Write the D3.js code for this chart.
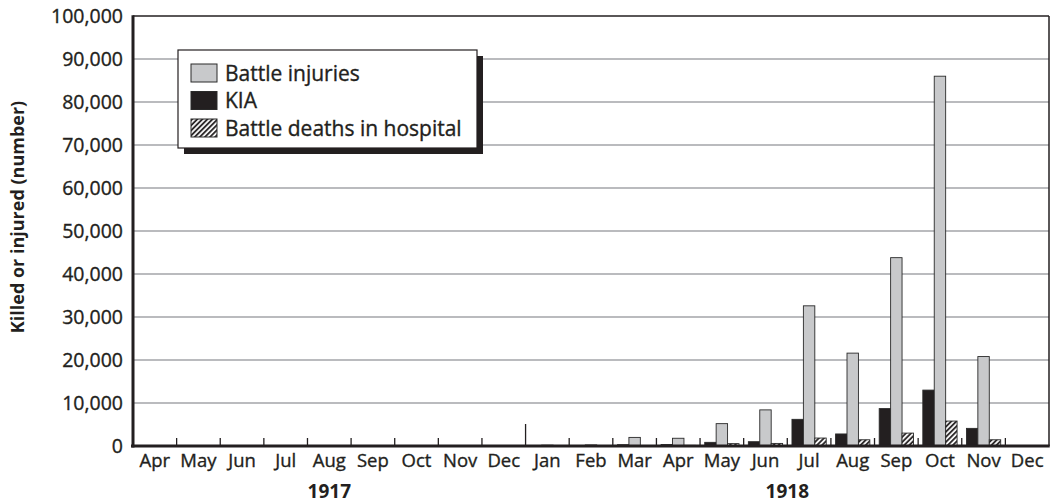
<!DOCTYPE html>
<html>
<head>
<meta charset="utf-8">
<script src="https://cdn.jsdelivr.net/npm/d3@7"></script>
<style>
  html, body { margin: 0; padding: 0; background: #fff; }
  svg { display: block; font-family: "Open Sans", "Noto Sans", sans-serif; }
  .reg { stroke: #231f20; stroke-width: 0.35px; }
</style>
</head>
<body>
<svg id="chart" width="1051" height="504"></svg>
<script>
// ---- data ----
const months = ["Apr","May","Jun","Jul","Aug","Sep","Oct","Nov","Dec","Jan","Feb","Mar","Apr","May","Jun","Jul","Aug","Sep","Oct","Nov","Dec"];
const monthYears = [1917,1917,1917,1917,1917,1917,1917,1917,1917,1918,1918,1918,1918,1918,1918,1918,1918,1918,1918,1918,1918];
const years = [1917, 1918];
const seriesNames = ["KIA", "Battle injuries", "Battle deaths in hospital"];
const kia      = [0,0,0,0,0,0,0,20,40,60,80,300,350,850,1000,6200,2800,8700,13000,4100,0];
const injuries = [0,0,0,0,0,0,0,50,100,200,250,2000,1800,5200,8400,32600,21600,43800,86000,20800,0];
const hospital = [0,0,0,0,0,0,0,10,20,30,40,100,150,550,600,1850,1450,3000,5800,1450,0];
const yTicks = [0,10000,20000,30000,40000,50000,60000,70000,80000,90000,100000];
const legendOrder = ["Battle injuries", "KIA", "Battle deaths in hospital"];

const seriesValues = { "KIA": kia, "Battle injuries": injuries, "Battle deaths in hospital": hospital };
const ink = "#231f20";
const fills = { "KIA": ink, "Battle injuries": "#c8c9cb", "Battle deaths in hospital": "url(#hatch)" };

const svg = d3.select("#chart");
const L = 133, R = 1049, T = 16, B = 446;

const keys = months.map((m, i) => i);
const x = d3.scaleBand().domain(keys).range([L, R]).padding(0);
const xs = d3.scaleBand().domain(seriesNames).range([0, x.bandwidth()]).paddingInner(0).paddingOuter(0.41);
const y = d3.scaleLinear().domain([0, 100000]).range([B, T]);

// hatch pattern
const defs = svg.append("defs");
const pat = defs.append("pattern").attr("id", "hatch").attr("patternUnits", "userSpaceOnUse")
  .attr("width", 3.6).attr("height", 3.6).attr("patternTransform", "rotate(45)");
pat.append("rect").attr("width", 3.6).attr("height", 3.6).attr("fill", "#fff");
pat.append("line").attr("x1", 1).attr("y1", -1).attr("x2", 1).attr("y2", 5)
  .attr("stroke", ink).attr("stroke-width", 1.8);

// gridlines
svg.append("g").selectAll("line").data(yTicks.filter(d => d > 0 && d < 100000)).join("line")
  .attr("x1", L).attr("x2", R).attr("y1", d => y(d)).attr("y2", d => y(d))
  .attr("stroke", "#a3a5a8").attr("stroke-width", 1.5);

// y axis labels
const yAxis = d3.axisLeft(y).tickValues(yTicks).tickFormat(d3.format(",")).tickSize(0).tickPadding(10);
const yg = svg.append("g").attr("transform", `translate(${L},0)`).call(yAxis);
yg.select(".domain").remove();
yg.selectAll("text").attr("font-size", 19.5).attr("fill", ink).attr("class", "reg")
  .attr("font-family", "'Open Sans', sans-serif");

// bars
const groups = svg.append("g").selectAll("g").data(keys).join("g")
  .attr("transform", d => `translate(${x(d)},0)`);
groups.selectAll("rect").data(i => seriesNames.map(s => ({ s, v: seriesValues[s][i] }))).join("rect")
  .attr("x", d => xs(d.s))
  .attr("width", xs.bandwidth())
  .attr("y", d => y(d.v))
  .attr("height", d => y(0) - y(d.v))
  .attr("fill", d => fills[d.s])
  .attr("stroke", d => d.v > 0 ? "#2a2a2a" : "none")
  .attr("stroke-width", 0.9);

// frame: top & right thin
svg.append("line").attr("x1", L).attr("x2", R).attr("y1", T).attr("y2", T).attr("stroke", ink).attr("stroke-width", 1.5);
svg.append("line").attr("x1", R).attr("x2", R).attr("y1", T).attr("y2", B).attr("stroke", ink).attr("stroke-width", 1.5);

// tick marks at month boundaries (upward)
svg.append("g").selectAll("line").data(keys.slice(1)).join("line")
  .attr("x1", d => x(d)).attr("x2", d => x(d))
  .attr("y1", B).attr("y2", d => months[d] === "Jan" ? B - 22 : B - 8)
  .attr("stroke", ink).attr("stroke-width", 1.3);

// axes thick
svg.append("line").attr("x1", L).attr("x2", L).attr("y1", T - 0.75).attr("y2", B + 1.5).attr("stroke", ink).attr("stroke-width", 3);
svg.append("line").attr("x1", L - 2).attr("x2", R + 0.75).attr("y1", B).attr("y2", B).attr("stroke", ink).attr("stroke-width", 3);

// month labels
svg.append("g").selectAll("text").data(keys).join("text")
  .attr("class", "reg")
  .attr("x", d => x(d) + x.bandwidth() / 2).attr("y", 466.5)
  .attr("text-anchor", "middle").attr("font-size", 18.5).attr("fill", ink)
  .text(d => months[d]);

// year labels
svg.append("g").selectAll("text").data(years).join("text")
  .attr("x", yr => {
    const idx = keys.filter(i => monthYears[i] === yr);
    return (x(idx[0]) + x(idx[idx.length - 1]) + x.bandwidth()) / 2;
  })
  .attr("y", 497.5).attr("text-anchor", "middle").attr("font-size", 19)
  .attr("font-weight", "bold").attr("fill", ink).text(yr => yr);

// y title
svg.append("text").attr("transform", "translate(24,217) rotate(-90)")
  .attr("text-anchor", "middle").attr("font-size", 18).attr("font-weight", "bold")
  .attr("fill", ink).text("Killed or injured (number)");

// legend
const lg = svg.append("g").attr("transform", "translate(178,50)");
lg.append("rect").attr("x", 6).attr("y", 6).attr("width", 299).attr("height", 98).attr("fill", ink);
lg.append("rect").attr("x", 0).attr("y", 0).attr("width", 299).attr("height", 98)
  .attr("fill", "#fff").attr("stroke", ink).attr("stroke-width", 1.2);
const rows = lg.selectAll("g.row").data(legendOrder).join("g").attr("class", "row")
  .attr("transform", (d, i) => `translate(13,${14 + i * 27.5})`);
rows.append("rect").attr("width", 26).attr("height", 18)
  .attr("fill", d => fills[d]).attr("stroke", "#2a2a2a").attr("stroke-width", 1);
rows.append("text").attr("class", "reg").attr("x", 34).attr("y", 16.5).attr("font-size", 21).attr("fill", ink).text(d => d);
</script>
</body>
</html>
